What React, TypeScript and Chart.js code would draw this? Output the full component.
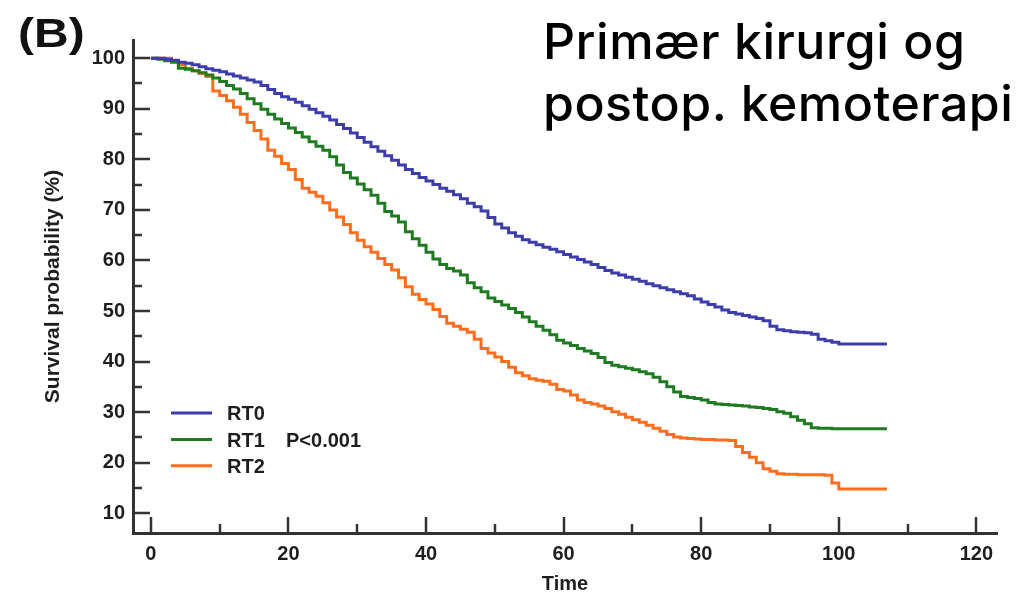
import React, { useEffect, useRef } from "react";
import { Chart, registerables } from "chart.js";

Chart.register(...registerables);

// Time in months (x values shared by all three curves)
const TIME = [
  0, 1, 2, 3, 4, 5, 6, 7, 8, 9, 10, 11, 12, 13, 14, 15, 16, 17, 18, 19,
  20, 21, 22, 23, 24, 25, 26, 27, 28, 29, 30, 31, 32, 33, 34, 35, 36, 37, 38, 39,
  40, 41, 42, 43, 44, 45, 46, 47, 48, 49, 50, 51, 52, 53, 54, 55, 56, 57, 58, 59,
  60, 61, 62, 63, 64, 65, 66, 67, 68, 69, 70, 71, 72, 73, 74, 75, 76, 77, 78, 79,
  80, 81, 82, 83, 84, 85, 86, 87, 88, 89, 90, 91, 92, 93, 94, 95, 96, 97, 98, 99,
  100, 107,
];

const RT0 = [
  100, 100, 99.8, 99.6, 99.2, 99.0, 98.7, 98.3, 97.9, 97.6, 97.3, 96.9, 96.5, 96.1, 95.7, 95.3, 94.6, 93.8, 93.0, 92.4,
  91.9, 91.3, 90.6, 89.9, 89.2, 88.5, 87.8, 86.9, 86.1, 85.2, 84.3, 83.4, 82.5, 81.6, 80.7, 79.8, 78.9, 78.0, 77.2, 76.4,
  75.7, 75.0, 74.3, 73.7, 73.0, 72.2, 71.3, 70.6, 69.8, 68.5, 67.2, 66.4, 65.5, 64.8, 64.1, 63.6, 63.1, 62.6, 62.2, 61.7,
  61.2, 60.7, 60.2, 59.7, 59.2, 58.6, 58.0, 57.5, 57.1, 56.7, 56.3, 55.9, 55.4, 55.0, 54.6, 54.2, 53.8, 53.4, 53.0, 52.4,
  51.8, 51.3, 50.8, 50.2, 49.7, 49.4, 49.1, 48.8, 48.5, 48.1, 47.0, 46.3, 46.1, 45.9, 45.8, 45.7, 45.4, 44.4, 44.1, 43.8,
  43.5, 43.5,
];

const RT1 = [
  100, 99.8, 99.5, 99.2, 98.0, 97.8, 97.5, 97.1, 96.7, 96.1, 95.4, 94.6, 93.9, 93.0, 92.0, 91.0, 89.9, 88.9, 88.0, 87.1,
  86.2, 85.3, 84.4, 83.5, 82.6, 81.8, 80.5, 78.9, 77.4, 76.3, 75.1, 74.0, 72.9, 71.3, 69.7, 68.8, 67.6, 65.7, 64.3, 63.0,
  61.6, 60.3, 59.2, 58.4, 57.9, 57.1, 55.6, 54.6, 53.8, 52.6, 51.9, 51.2, 50.5, 49.7, 48.8, 47.9, 47.0, 46.2, 45.3, 44.2,
  43.7, 43.2, 42.6, 42.1, 41.6, 40.8, 39.8, 39.3, 39.0, 38.7, 38.4, 38.0, 37.6, 36.9, 36.0, 35.0, 34.0, 33.1, 32.9, 32.7,
  32.4, 31.9, 31.6, 31.5, 31.4, 31.3, 31.2, 31.0, 30.9, 30.7, 30.5, 30.1, 29.8, 29.1, 28.4, 27.7, 26.9, 26.8, 26.8, 26.7,
  26.7, 26.7,
];

const RT2 = [
  100, 100, 100, 99.5, 98.7, 98.0, 97.5, 97.0, 96.4, 93.5, 92.6, 91.6, 90.3, 88.9, 87.3, 85.7, 84.0, 81.8, 80.6, 79.2,
  78.0, 76.0, 74.3, 73.5, 72.7, 71.4, 70.0, 68.6, 67.1, 65.5, 64.0, 62.7, 61.6, 60.4, 59.2, 58.1, 56.6, 54.8, 53.3, 52.3,
  51.4, 50.3, 48.9, 47.6, 47.0, 46.4, 45.8, 44.4, 42.6, 41.7, 40.9, 40.0, 38.9, 37.8, 37.2, 36.6, 36.3, 36.1, 35.5, 34.5,
  34.2, 33.4, 32.4, 31.9, 31.6, 31.2, 30.7, 30.1, 29.6, 29.0, 28.5, 28.0, 27.4, 26.8, 26.2, 25.6, 25.1, 24.9, 24.8, 24.7,
  24.6, 24.6, 24.5, 24.5, 24.4, 23.2, 22.0, 21.1, 20.0, 18.8, 18.3, 17.8, 17.7, 17.7, 17.6, 17.6, 17.6, 17.6, 17.5, 16.0,
  14.8, 14.8,
];

const SERIES_LABELS = ["RT0", "RT1", "RT2"];
const SERIES_COLORS = ["#3c3caa", "#1f7a22", "#ff6d1f"];
const X_TICKS = [0, 20, 40, 60, 80, 100, 120];
const Y_TICKS = [10, 20, 30, 40, 50, 60, 70, 80, 90, 100];
const P_VALUE_TEXT = "P<0.001";
const X_TITLE = "Time";
const Y_TITLE = "Survival probability (%)";
const TITLE_LINES = ["Primær kirurgi og", "postop. kemoterapi"];
const PANEL_LABEL = "(B)";

const AXIS_COLOR = "#333333";
const TEXT_COLOR = "#1e1e1e";
const FONT_FAMILY = "'Liberation Sans', Arial, Helvetica, sans-serif";

const inwardTicks = {
  id: "inwardTicks",
  afterDraw(chart: any) {
    const { ctx, chartArea, scales } = chart;
    const xs = scales.x;
    const ys = scales.y;
    ctx.save();
    ctx.strokeStyle = AXIS_COLOR;
    ctx.lineWidth = 2.5;
    ctx.lineCap = "butt";
    const xStep = X_TICKS[1] - X_TICKS[0];
    for (let i = 0; i < X_TICKS.length; i++) {
      const v = X_TICKS[i];
      const px = Math.round(xs.getPixelForValue(v));
      ctx.beginPath();
      ctx.moveTo(px, chartArea.bottom);
      ctx.lineTo(px, chartArea.bottom - 16);
      ctx.stroke();
      if (i < X_TICKS.length - 1) {
        const pm = Math.round(xs.getPixelForValue(v + xStep / 2));
        ctx.beginPath();
        ctx.moveTo(pm, chartArea.bottom);
        ctx.lineTo(pm, chartArea.bottom - 9);
        ctx.stroke();
      }
    }
    const yStep = Y_TICKS[1] - Y_TICKS[0];
    for (let i = 0; i < Y_TICKS.length; i++) {
      const v = Y_TICKS[i];
      const py = Math.round(ys.getPixelForValue(v));
      ctx.beginPath();
      ctx.moveTo(chartArea.left, py);
      ctx.lineTo(chartArea.left + 17, py);
      ctx.stroke();
      if (i < Y_TICKS.length - 1) {
        const pm = Math.round(ys.getPixelForValue(v + yStep / 2));
        ctx.beginPath();
        ctx.moveTo(chartArea.left, pm);
        ctx.lineTo(chartArea.left + 9, pm);
        ctx.stroke();
      }
    }

    // legend inside plot
    const lx = 171;
    const ly0 = 413;
    const dy = 26.4;
    ctx.font = `bold 20px ${FONT_FAMILY}`;
    ctx.textBaseline = "alphabetic";
    ctx.textAlign = "left";
    chart.data.datasets.forEach((ds: any, i: number) => {
      const yy = ly0 + i * dy;
      ctx.strokeStyle = ds.borderColor;
      ctx.lineWidth = 3;
      ctx.beginPath();
      ctx.moveTo(lx, yy);
      ctx.lineTo(lx + 41, yy);
      ctx.stroke();
      ctx.fillStyle = TEXT_COLOR;
      ctx.fillText(ds.label, lx + 56, yy + 7.3);
      if (i === 1) ctx.fillText(P_VALUE_TEXT, lx + 115, yy + 7.3);
    });
    ctx.restore();
  },
};

export default function App() {
  const canvasRef = useRef<HTMLCanvasElement | null>(null);

  useEffect(() => {
    const canvas = canvasRef.current;
    if (!canvas) return;
    const series = [RT0, RT1, RT2];
    const chart = new Chart(canvas, {
      type: "line",
      data: {
        datasets: series.map((vals, i) => ({
          label: SERIES_LABELS[i],
          data: TIME.map((t, j) => ({ x: t, y: vals[j] })),
          borderColor: SERIES_COLORS[i],
          backgroundColor: SERIES_COLORS[i],
          borderWidth: 3,
          pointRadius: 0,
          stepped: "before" as const,
          fill: false,
        })),
      },
      options: {
        animation: false,
        responsive: false,
        maintainAspectRatio: false,
        layout: { padding: { left: 0, top: 40, right: 26, bottom: 0 } },
        plugins: {
          legend: { display: false },
          tooltip: { enabled: false },
          title: { display: false },
        },
        scales: {
          x: {
            type: "linear",
            min: -2.6,
            max: 123,
            afterFit(scale: any) {
              scale.height = 63;
            },
            grid: { display: false, drawTicks: false },
            border: { display: true, color: AXIS_COLOR, width: 3 },
            ticks: {
              stepSize: 20,
              includeBounds: false,
              padding: 9,
              color: TEXT_COLOR,
              font: { family: FONT_FAMILY, size: 20, weight: "bold" },
              maxRotation: 0,
              autoSkip: false,
            },
            title: {
              display: true,
              text: X_TITLE,
              color: TEXT_COLOR,
              font: { family: FONT_FAMILY, size: 20, weight: "bold" },
              padding: { top: 0, bottom: 0 },
            },
          },
          y: {
            type: "linear",
            min: 6.1,
            max: 103.6,
            afterFit(scale: any) {
              scale.width = 133;
            },
            grid: { display: false, drawTicks: false },
            border: { display: true, color: AXIS_COLOR, width: 3 },
            ticks: {
              stepSize: 10,
              includeBounds: false,
              padding: 8,
              color: TEXT_COLOR,
              font: { family: FONT_FAMILY, size: 20, weight: "bold" },
              autoSkip: false,
            },
            title: {
              display: true,
              text: Y_TITLE,
              color: TEXT_COLOR,
              font: { family: FONT_FAMILY, size: 21, weight: "bold" },
              padding: { top: 41, bottom: 0 },
            },
          },
        },
      },
      plugins: [inwardTicks],
    });
    return () => chart.destroy();
  }, []);

  return (
    <div
      style={{
        position: "absolute",
        left: 0,
        top: 0,
        width: 1023,
        height: 596,
        background: "#ffffff",
        overflow: "hidden",
      }}
    >
      <canvas
        ref={canvasRef}
        width={1023}
        height={596}
        style={{ position: "absolute", left: 0, top: 0, width: 1023, height: 596 }}
      />
      <div
        style={{
          position: "absolute",
          left: 18,
          top: 5,
          fontFamily: FONT_FAMILY,
          fontWeight: "bold",
          fontSize: 40,
          lineHeight: "56px",
          color: "#111",
          transform: "scaleX(1.2)",
          transformOrigin: "left top",
          whiteSpace: "nowrap",
        }}
      >
        {PANEL_LABEL}
      </div>
      <div
        style={{
          position: "absolute",
          left: 543,
          top: 10,
          fontFamily: "Inter, 'Noto Sans', sans-serif",
          fontWeight: 500,
          fontSize: 50,
          lineHeight: "62px",
          letterSpacing: "0.5px",
          color: "#000",
          whiteSpace: "nowrap",
        }}
      >
        {TITLE_LINES.map((l) => (
          <div key={l}>{l}</div>
        ))}
      </div>
    </div>
  );
}
